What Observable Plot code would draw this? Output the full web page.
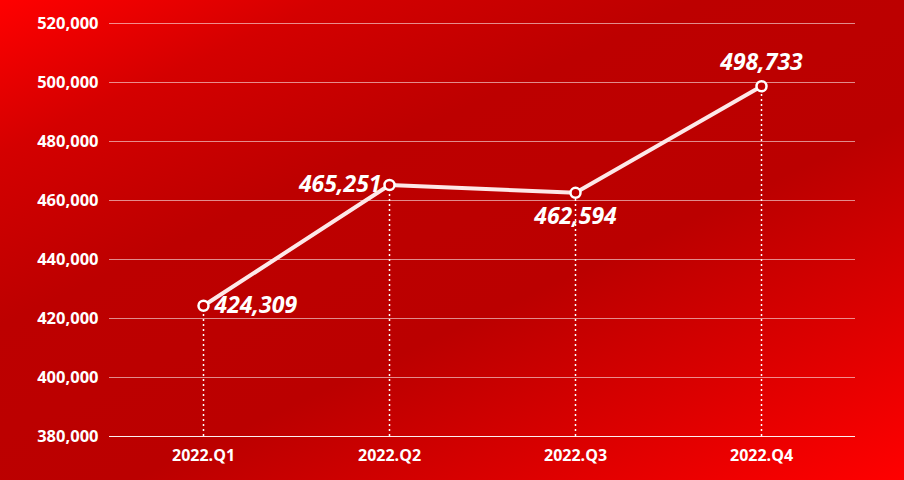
<!DOCTYPE html>
<html><head><meta charset="utf-8">
<script src="https://cdn.jsdelivr.net/npm/d3@7"></script>
<script src="https://cdn.jsdelivr.net/npm/@observablehq/plot@0.6"></script>
<style>
html,body{margin:0;padding:0;}
body{width:904px;height:480px;overflow:hidden;
background:linear-gradient(155deg,#ff0000 0%,#d40000 17%,#bd0000 36%,#bb0000 60%,#dc0000 80%,#ff0000 100%);}
#chart svg{display:block;background:transparent;}
</style></head>
<body><div id="chart"></div>
<script>
const quarters = ["2022.Q1","2022.Q2","2022.Q3","2022.Q4"];
const values = [424309, 465251, 462594, 498733];
const yTicks = [380000,400000,420000,440000,460000,480000,500000,520000];
const labelSide = ["right","left","below","above"];

const data = quarters.map((q,i)=>({q, v: values[i], side: labelSide[i]}));
const yMin = yTicks[0], yMax = yTicks[yTicks.length-1];
const fmt = d3.format(",");
const labelFont = {fill:"white", fontSize:23, fontWeight:"bold", fontStyle:"italic", fontFamily:"'Open Sans', 'Noto Sans', sans-serif"};

const chart = Plot.plot({
  width: 904, height: 480,
  marginLeft: 109, marginRight: 49, marginTop: 23, marginBottom: 44,
  style: {background:"transparent", fontFamily:"'Open Sans','Noto Sans',sans-serif", color:"white", overflow:"visible"},
  x: {type:"point", domain: quarters, padding:0.5, label:null},
  y: {domain:[yMin,yMax], label:null},
  marks: [
    Plot.gridY(yTicks, {stroke:"white", strokeOpacity:0.55, strokeWidth:1}),
    Plot.ruleY([yMin], {stroke:"white", strokeOpacity:0.85, strokeWidth:1}),
    Plot.axisY({ticks:yTicks, tickSize:0, tickPadding:11, tickFormat:fmt, fill:"white", fontSize:16.5, fontWeight:"bold", label:null}),
    Plot.axisX({tickSize:0, tickPadding:13, fill:"white", fontSize:16, fontWeight:"bold", label:null}),
    Plot.ruleX(data, {x:"q", y1: () => yMin, y2:"v", stroke:"white", strokeWidth:1.5, strokeDasharray:"2,3"}),
    Plot.line(data, {x:"q", y:"v", stroke:"#fde8e8", strokeWidth:4}),
    Plot.dot(data, {x:"q", y:"v", r:5, fill:"#c00000", stroke:"white", strokeWidth:2.5}),
    Plot.text(data.filter(d=>d.side==="right"), {x:"q", y:"v", text:d=>fmt(d.v), textAnchor:"start", dx:11, dy:0, ...labelFont}),
    Plot.text(data.filter(d=>d.side==="left"), {x:"q", y:"v", text:d=>fmt(d.v), textAnchor:"end", dx:-8, dy:0, ...labelFont}),
    Plot.text(data.filter(d=>d.side==="below"), {x:"q", y:"v", text:d=>fmt(d.v), textAnchor:"middle", dy:24, ...labelFont}),
    Plot.text(data.filter(d=>d.side==="above"), {x:"q", y:"v", text:d=>fmt(d.v), textAnchor:"middle", dy:-24, ...labelFont})
  ]
});
document.getElementById("chart").appendChild(chart);
</script>
</body></html>
